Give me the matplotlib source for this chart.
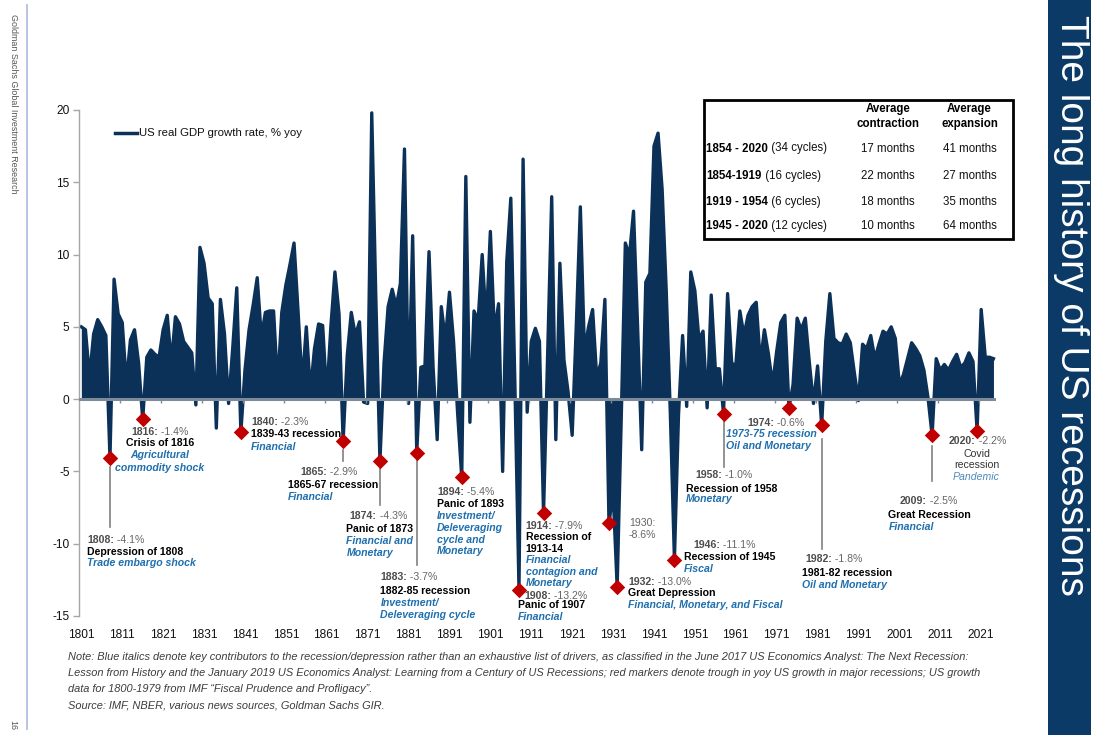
import matplotlib
matplotlib.use('Agg')
import matplotlib.pyplot as plt
import numpy as np
from matplotlib.patches import Rectangle
from matplotlib.lines import Line2D
from matplotlib.transforms import blended_transform_factory
from matplotlib import font_manager

# ---------------- DATA ----------------
years = list(range(1801, 2025))
gdp = [
    5.0, 4.8, 1.5, 4.5, 5.5, 5.0, 4.4, -4.1, 8.3, 5.9,          # 1801-1810
    5.3, 1.1, 4.1, 4.8, 2.5, -1.4, 2.9, 3.4, 3.1, 2.9,          # 1811-1820
    4.8, 5.8, 2.5, 5.7, 5.2, 4.0, 3.6, 3.2, -0.4, 10.5,         # 1821-1830
    9.4, 7.0, 6.6, -2.0, 6.9, 4.5, -0.3, 3.5, 7.7, -2.3,        # 1831-1840
    2.0, 4.8, 6.5, 8.4, 4.3, 6.0, 6.1, 6.1, 0.9, 6.0,           # 1841-1850
    7.9, 9.3, 10.8, 6.0, 1.0, 5.0, 0.5, 3.5, 5.2, 5.1,          # 1851-1860
    0.2, 5.0, 8.8, 5.9, -2.9, 3.0, 6.0, 4.4, 5.35, -0.2,        # 1861-1870
    -0.3, 19.8, 7.0, -4.3, 2.5, 6.4, 7.6, 6.4, 8.0, 17.3,       # 1871-1880
    -0.3, 11.3, -3.7, 2.2, 2.3, 10.2, 2.2, -2.8, 6.4, 4.1,      # 1881-1890
    7.4, 4.0, -1.0, -5.4, 15.4, -1.6, 6.1, 5.4, 10.0, 5.2,      # 1891-1900
    11.6, 4.6, 6.6, -5.0, 9.5, 13.9, 1.0, -13.2, 16.6, -0.9,    # 1901-1910
    4.0, 4.9, 4.0, -7.9, 3.0, 14.0, -2.8, 9.4, 2.7, 0.5,        # 1911-1920
    -2.5, 5.0, 13.3, 3.3, 5.0, 6.2, 1.5, 2.5, 6.9, -8.6,        # 1921-1930
    -6.4, -13.0, -1.3, 10.8, 9.9, 13.0, 5.0, -3.5, 8.1, 8.7,    # 1931-1940
    17.5, 18.4, 14.5, 7.5, -1.0, -11.1, -1.1, 4.4, -0.5, 8.8,   # 1941-1950
    7.5, 4.1, 4.7, -0.6, 7.2, 2.1, 2.1, -1.0, 7.3, 2.5,         # 1951-1960
    2.3, 6.1, 4.4, 5.8, 6.4, 6.7, 2.5, 4.8, 3.1, 1.0,           # 1961-1970
    3.3, 5.3, 5.8, -0.6, 1.0, 5.6, 4.8, 5.6, 2.5, -0.3,         # 1971-1980
    2.3, -1.8, 4.0, 7.3, 4.2, 3.9, 3.8, 4.5, 3.9, 1.8,          # 1981-1990
    -0.1, 3.8, 3.5, 4.4, 2.8, 3.8, 4.7, 4.5, 5.0, 4.2,          # 1991-2000
    1.0, 1.7, 2.8, 3.9, 3.5, 3.0, 2.0, 0.1, -2.5, 2.8,          # 2001-2010
    2.0, 2.4, 2.0, 2.6, 3.1, 2.2, 2.5, 3.2, 2.6, -2.2,          # 2011-2020
    6.2, 2.9, 2.9, 2.8,                                         # 2021-2024
]

trough_years = [1808, 1816, 1840, 1865, 1874, 1883, 1894, 1908, 1914,
                1930, 1932, 1946, 1958, 1974, 1982, 2009, 2020]
trough_vals = [-4.1, -1.4, -2.3, -2.9, -4.3, -3.7, -5.4, -13.2, -7.9,
               -8.6, -13.0, -11.1, -1.0, -0.6, -1.8, -2.5, -2.2]

y_ticks = [-15, -10, -5, 0, 5, 10, 15, 20]
x_tick_years = list(range(1801, 2022, 10))

legend_label = "US real GDP growth rate, % yoy"

table_periods = ["1854 - 2020", "1854-1919", "1919 - 1954", "1945 - 2020"]
table_cycles = [" (34 cycles)", " (16 cycles)", " (6 cycles)", " (12 cycles)"]
table_contraction = ["17 months", "22 months", "18 months", "10 months"]
table_expansion = ["41 months", "27 months", "35 months", "64 months"]
table_headers = ["Average\ncontraction", "Average\nexpansion"]

title = "The long history of US recessions"
side_label = "Goldman Sachs Global Investment Research"
page_no = "16"
notes = [
    "Note: Blue italics denote key contributors to the recession/depression rather than an exhaustive list of drivers, as classified in the June 2017 US Economics Analyst: The Next Recession:",
    "Lesson from History and the January 2019 US Economics Analyst: Learning from a Century of US Recessions; red markers denote trough in yoy US growth in major recessions; US growth",
    "data for 1800-1979 from IMF \u201cFiscal Prudence and Profligacy\u201d.",
]
source = "Source: IMF, NBER, various news sources, Goldman Sachs GIR."

# ---------------- STYLE ----------------
plt.rcParams['font.family'] = ['Liberation Sans', 'DejaVu Sans']
NAVY = '#0B3158'
PANEL = '#0B3A66'
RED = '#C00000'
BLUE = '#1F6FAE'
GREY_B = '#4D4D4D'
GREY_N = '#666666'
AXGREY = '#A6A6A6'
ZERO = '#7D8A99'

W, H = 1101, 735
fig = plt.figure(figsize=(W / 100, H / 100), dpi=100)
fig.patch.set_facecolor('white')
renderer = fig.canvas.get_renderer()


def fx(x):
    return x / W


def fy(y):
    return 1 - y / H


def T(x, y, s, **kw):
    kw.setdefault('va', 'center')
    return fig.text(fx(x), fy(y), s, **kw)


def two_part(x, y, a, b, ha='left', size=7.6, ca=GREY_B, cb=GREY_N,
             wa='bold', wb='normal'):
    kwa = dict(size=size, color=ca, weight=wa, va='center', ha='left')
    kwb = dict(size=size, color=cb, weight=wb, va='center', ha='left')
    t1 = T(x, y, a, **kwa)
    w1 = t1.get_window_extent(renderer).width
    t2 = T(x + w1, y, b, **kwb)
    if ha == 'center':
        w2 = t2.get_window_extent(renderer).width
        shift = (w1 + w2) / 2
        t1.set_position((fx(x - shift), fy(y)))
        t2.set_position((fx(x - shift + w1), fy(y)))
    return t1, t2


# ---------------- MAIN AXES ----------------
ax = fig.add_axes([fx(79.3), fy(616), fx(995.5) - fx(79.3), fy(110) - fy(616)])
ax.set_xlim(1800.5, 2024.5)
ax.set_ylim(-15, 20)

ax.fill_between(years, gdp, 0, color=NAVY, lw=0, zorder=2)
ax.plot(years, gdp, color=NAVY, lw=2.4, solid_joinstyle='round', zorder=2)
ax.axhline(0, color=ZERO, lw=2.2, zorder=3)
ax.vlines(np.arange(1810.5, 2021, 10), -0.3, 0, color=ZERO, lw=1, zorder=3)

ax.scatter(trough_years, trough_vals, marker='D', s=62, color=RED,
           zorder=6, linewidths=0)

for s in ['top', 'right', 'bottom']:
    ax.spines[s].set_visible(False)
ax.spines['left'].set_color(AXGREY)
ax.spines['left'].set_linewidth(1.0)
ax.set_yticks(y_ticks)
ax.set_yticklabels([str(v) for v in y_ticks])
ax.tick_params(axis='y', length=4, width=1, color=AXGREY, pad=3,
               labelsize=8.6, labelcolor='#111111')
ax.set_xticks(x_tick_years)
ax.set_xticklabels([str(v) for v in x_tick_years])
ax.tick_params(axis='x', length=0, pad=9, labelsize=8.6, labelcolor='#111111')
ax.patch.set_alpha(0)

# legend
fig.add_artist(Line2D([fx(115), fx(137)], [fy(133), fy(133)], color=NAVY, lw=2.5))
T(139, 133, legend_label, size=8.2, color='#111111', ha='left')

# ---------------- ANNOTATIONS ----------------
FS = 7.6
ann = [
    [('v', '1808:', ' -4.1%', 87, 540, 'left'), ('n', 'Depression of 1808', 87, 552, 'left'),
     ('d', 'Trade embargo shock', 87, 563.5, 'left')],
    [('v', '1816:', ' -1.4%', 160, 432, 'center'), ('n', 'Crisis of 1816', 160, 443.5, 'center'),
     ('d', 'Agricultural', 160, 455.5, 'center'), ('d', 'commodity shock', 160, 467.5, 'center')],
    [('v', '1840:', ' -2.3%', 251, 422, 'left'), ('n', '1839-43 recession', 251, 434.5, 'left'),
     ('d', 'Financial', 251, 446.5, 'left')],
    [('v', '1865:', ' -2.9%', 329, 472, 'center'), ('n', '1865-67 recession', 288, 484.5, 'left'),
     ('d', 'Financial', 288, 496.5, 'left')],
    [('v', '1874:', ' -4.3%', 378.5, 516, 'center'), ('n', 'Panic of 1873', 346.5, 529, 'left'),
     ('d', 'Financial and', 346.5, 541, 'left'), ('d', 'Monetary', 346.5, 553, 'left')],
    [('v', '1883:', ' -3.7%', 380.5, 577, 'left'), ('n', '1882-85 recession', 380.5, 591, 'left'),
     ('d', 'Investment/', 380.5, 603, 'left'), ('d', 'Deleveraging cycle', 380.5, 615, 'left')],
    [('v', '1894:', ' -5.4%', 437, 492, 'left'), ('n', 'Panic of 1893', 437, 504, 'left'),
     ('d', 'Investment/', 437, 516, 'left'), ('d', 'Deleveraging', 437, 528, 'left'),
     ('d', 'cycle and', 437, 540, 'left'), ('d', 'Monetary', 437, 551.5, 'left')],
    [('v', '1908:', ' -13.2%', 524, 596, 'left'), ('n', 'Panic of 1907', 518, 604.5, 'left'),
     ('d', 'Financial', 518, 616.5, 'left')],
    [('v', '1914:', ' -7.9%', 525.5, 526, 'left'), ('n', 'Recession of', 525.5, 537, 'left'),
     ('n', '1913-14', 525.5, 548.5, 'left'), ('d', 'Financial', 525.5, 560, 'left'),
     ('d', 'contagion and', 525.5, 572, 'left'), ('d', 'Monetary', 525.5, 583.5, 'left')],
    [('g', '1930:', 629, 522.5, 'left'), ('g', '-8.6%', 629, 535, 'left')],
    [('v', '1932:', ' -13.0%', 628, 582, 'left'), ('n', 'Great Depression', 628, 593, 'left'),
     ('d', 'Financial, Monetary, and Fiscal', 628, 604.5, 'left')],
    [('v', '1946:', ' -11.1%', 693, 545, 'left'), ('n', 'Recession of 1945', 684, 557.5, 'left'),
     ('d', 'Fiscal', 684, 568.5, 'left')],
    [('v', '1958:', ' -1.0%', 695, 475, 'left'), ('n', 'Recession of 1958', 686, 488.5, 'left'),
     ('d', 'Monetary', 686, 499.5, 'left')],
    [('v', '1974:', ' -0.6%', 747, 422.5, 'left'), ('d', '1973-75 recession', 726.5, 434, 'left'),
     ('d', 'Oil and Monetary', 726.5, 445.5, 'left')],
    [('v', '1982:', ' -1.8%', 805.5, 559, 'left'), ('n', '1981-82 recession', 802.5, 573, 'left'),
     ('d', 'Oil and Monetary', 802.5, 585, 'left')],
    [('v', '2009:', ' -2.5%', 900, 500.5, 'left'), ('n', 'Great Recession', 888.5, 515, 'left'),
     ('d', 'Financial', 888.5, 526.5, 'left')],
    [('v', '2020:', ' -2.2%', 949, 441.5, 'left'), ('c', 'Covid', 976.5, 454, 'center'),
     ('c', 'recession', 976.5, 465.5, 'center'), ('p', 'Pandemic', 976.5, 477, 'center')],
]
for block in ann:
    for item in block:
        kind = item[0]
        if kind == 'v':
            _, a, b, x, y, ha = item
            two_part(x, y, a, b, ha=ha, size=FS)
        else:
            _, s, x, y, ha = item
            if kind == 'n':
                T(x, y, s, size=FS, weight='bold', color='#000000', ha=ha)
            elif kind == 'd':
                T(x, y, s, size=FS, weight='bold', style='italic', color=BLUE, ha=ha)
            elif kind == 'g':
                T(x, y, s, size=FS, color=GREY_N, ha=ha)
            elif kind == 'c':
                T(x, y, s, size=FS, color='#333333', ha=ha)
            elif kind == 'p':
                T(x, y, s, size=FS, style='italic', color='#4C89BA', ha=ha)

# connector lines (x in data years, y in page pixels)
btrans = blended_transform_factory(ax.transData, fig.transFigure)
connectors = [(1808, 467, 527), (1865, 450, 461), (1874, 467, 505), (1883, 460, 565),
              (1958, 420, 467), (1982, 439, 549), (2009, 446, 481)]
for yr, y0, y1 in connectors:
    ax.plot([yr, yr], [fy(y0), fy(y1)], transform=btrans, clip_on=False,
            color='#808080', lw=1.2, zorder=1)

# ---------------- TABLE ----------------
fig.add_artist(Rectangle((fx(704), fy(238.5)), fx(1013) - fx(704), fy(99.5) - fy(238.5),
                         transform=fig.transFigure, fill=True, facecolor='white',
                         edgecolor='black', lw=2.0, zorder=5))
TS = 8.3
T(888, 116.5, table_headers[0], size=TS, weight='bold', ha='center', linespacing=1.25, zorder=6)
T(969.5, 116.5, table_headers[1], size=TS, weight='bold', ha='center', linespacing=1.25, zorder=6)
row_y = [148.5, 176, 202, 226.5]
for i, ry in enumerate(row_y):
    t1, t2 = two_part(706.5, ry, table_periods[i], table_cycles[i], size=TS,
                      ca='#000000', cb='#111111')
    t1.set_zorder(6); t2.set_zorder(6)
    T(888, ry, table_contraction[i], size=TS, ha='center', color='#111111', zorder=6)
    T(969.5, ry, table_expansion[i], size=TS, ha='center', color='#111111', zorder=6)

# ---------------- PAGE DECORATION ----------------
fig.add_artist(Rectangle((fx(1048), 0), fx(1091) - fx(1048), 1, transform=fig.transFigure,
                         facecolor=PANEL, edgecolor='none'))
T(1071, 305, title, size=28, color='white', rotation=-90, ha='center')

fig.add_artist(Line2D([fx(27), fx(27)], [fy(5), fy(729)], color='#B3BCE3', lw=1.3))
T(13, 104, side_label, size=6.4, color='#555555', rotation=-90, ha='center')
T(13, 725, page_no, size=6.4, color='#555555', rotation=-90, ha='center')

names = {f.name for f in font_manager.fontManager.ttflist}
if 'Liberation Sans Narrow' in names:
    ffam, fsz = ['Liberation Sans Narrow', 'DejaVu Sans'], 8.4
else:
    ffam, fsz = ['Liberation Sans', 'DejaVu Sans'], 7.9
for i, line in enumerate(notes):
    T(68, 657.5 + 16 * i, line, size=fsz, style='italic', color='#3C3C3C',
      ha='left', family=ffam)
T(68, 706, source, size=fsz, style='italic', color='#3C3C3C', ha='left', family=ffam)

fig.savefig('out.png', dpi=100, facecolor='white')
